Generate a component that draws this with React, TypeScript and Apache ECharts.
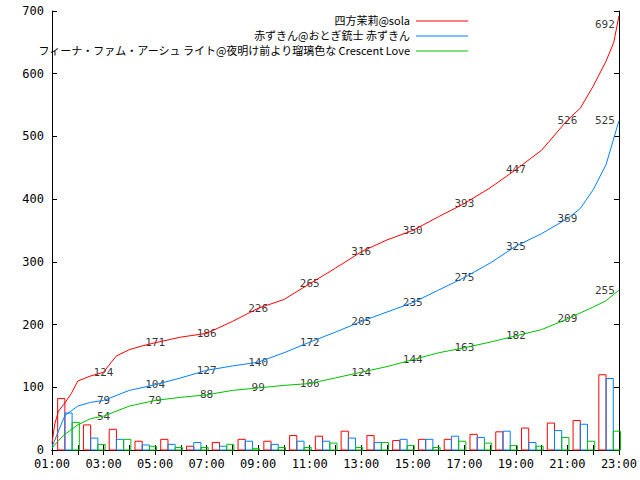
import { useEffect, useRef } from 'react'
import * as echarts from 'echarts'

const names = [
  '四方茉莉@sola',
  '赤ずきん@おとぎ銃士 赤ずきん',
  'フィーナ・ファム・アーシュ ライト@夜明け前より瑠璃色な Crescent Love'
]
const colors = ['#ff0000', '#0080ff', '#00c000']

// cumulative curves: [hour, count]
const redLine = [[1, 10], [1.1, 40], [1.25, 62], [1.5, 75], [1.75, 90], [2, 110], [2.5, 118], [3, 124], [3.3, 140], [3.5, 150], [4, 160], [4.5, 166], [5, 171], [6, 180], [7, 186], [8, 205], [9, 226], [10, 240], [11, 265], [12, 290], [13, 316], [14, 335], [15, 350], [16, 372], [17, 393], [18, 418], [19, 447], [20, 478], [21, 526], [21.5, 545], [22, 580], [22.5, 620], [22.8, 650], [23, 692]]
const blueLine = [[1, 5], [1.25, 30], [1.5, 55], [2, 70], [2.5, 76], [3, 79], [4, 95], [5, 104], [6, 115], [7, 127], [8, 134], [9, 140], [10, 155], [11, 172], [12, 188], [13, 205], [14, 220], [15, 235], [16, 255], [17, 275], [18, 298], [19, 325], [20, 345], [21, 369], [21.5, 385], [22, 415], [22.5, 455], [23, 525]]
const greenLine = [[1, 3], [1.25, 15], [1.5, 25], [2, 40], [2.5, 50], [3, 54], [4, 70], [5, 79], [6, 84], [7, 88], [8, 95], [9, 99], [10, 103], [11, 106], [12, 115], [13, 124], [14, 133], [15, 144], [16, 155], [17, 163], [18, 172], [19, 182], [20, 192], [21, 209], [22, 228], [22.5, 238], [23, 255]]

const labelHours = [3, 5, 7, 9, 11, 13, 15, 17, 19, 21, 23]

// hourly counts, 01:00 .. 22:00
const redBars = [82, 40, 33, 14, 17, 6, 12, 17, 14, 23, 22, 30, 23, 15, 17, 17, 25, 29, 35, 43, 47, 120]
const blueBars = [59, 19, 17, 8, 9, 12, 6, 14, 9, 14, 14, 19, 12, 17, 17, 22, 20, 30, 12, 31, 41, 114]
const greenBars = [44, 9, 17, 6, 4, 4, 9, 2, 4, 4, 11, 4, 12, 7, 4, 14, 11, 7, 6, 20, 14, 30]

const font = 'DejaVu Sans Mono'

export default function App() {
  const ref = useRef<HTMLDivElement>(null)

  useEffect(() => {
    document.body.style.margin = '0'
    if (!ref.current) return
    const chart = echarts.init(ref.current, null, { renderer: 'svg' })
    const lines = [redLine, blueLine, greenLine]
    const bars = [redBars, blueBars, greenBars]

    const series: any[] = []
    bars.forEach((b, k) => {
      series.push({
        type: 'custom',
        data: b.map((v, i) => [i + 1, v]),
        renderItem: (params: any, api: any) => {
          const h = api.value(0)
          const v = api.value(1)
          const p0 = api.coord([h + 0.22 + k * 0.28, v])
          const p1 = api.coord([h + 0.22 + (k + 1) * 0.28, 0])
          return {
            type: 'rect',
            shape: { x: p0[0], y: p0[1], width: p1[0] - p0[0], height: p1[1] - p0[1] },
            style: { fill: 'none', stroke: colors[k], lineWidth: 1 }
          }
        }
      })
    })
    lines.forEach((d, k) => {
      series.push({
        type: 'line',
        name: names[k],
        data: d,
        symbol: 'none',
        lineStyle: { color: colors[k], width: 1 }
      })
      series.push({
        type: 'scatter',
        symbolSize: 0,
        data: d
          .filter((p) => labelHours.includes(p[0]))
          .map((p) => (p[0] === 23 ? { value: p, label: { offset: [-14, k === 0 ? 8 : 0] } } : p)),
        label: {
          show: true,
          position: 'inside',
          formatter: (p: any) => String(p.value[1]),
          color: '#000',
          fontFamily: font,
          fontSize: 11
        }
      })
    })

    const legend: any[] = []
    names.forEach((n, k) => {
      legend.push({
        type: 'text',
        right: 230,
        top: 14 + k * 15,
        style: { text: n, fill: '#000', font: `11px "Noto Sans CJK JP"`, textAlign: 'right' }
      })
      legend.push({
        type: 'line',
        shape: { x1: 416, y1: 21 + k * 15, x2: 468, y2: 21 + k * 15 },
        style: { stroke: colors[k], lineWidth: 1 }
      })
    })

    const axisCommon = {
      type: 'value',
      axisLine: { show: true, lineStyle: { color: '#000' } },
      axisTick: { show: true, inside: true, length: 5, lineStyle: { color: '#000' } },
      splitLine: { show: false }
    }
    chart.setOption({
      animation: false,
      grid: { left: 52, right: 14, top: 11, bottom: 30 },
      xAxis: [
        {
          ...axisCommon,
          min: 1,
          max: 23,
          interval: 1,
          axisLabel: {
            color: '#000',
            fontFamily: font,
            fontSize: 12,
            margin: 8,
            showMaxLabel: true,
            formatter: (v: number) => (v % 2 === 1 ? String(v).padStart(2, '0') + ':00' : '')
          }
        },
        { ...axisCommon, position: 'top', min: 1, max: 23, interval: 1, axisLabel: { show: false } }
      ],
      yAxis: [
        {
          ...axisCommon,
          min: 0,
          max: 700,
          interval: 100,
          axisLabel: { color: '#000', fontFamily: font, fontSize: 12, margin: 8 }
        },
        { ...axisCommon, position: 'right', min: 0, max: 700, interval: 100, axisLabel: { show: false } }
      ],
      graphic: legend,
      series
    })
    return () => chart.dispose()
  }, [])

  return <div ref={ref} style={{ width: 640, height: 480, background: '#fff' }} />
}
